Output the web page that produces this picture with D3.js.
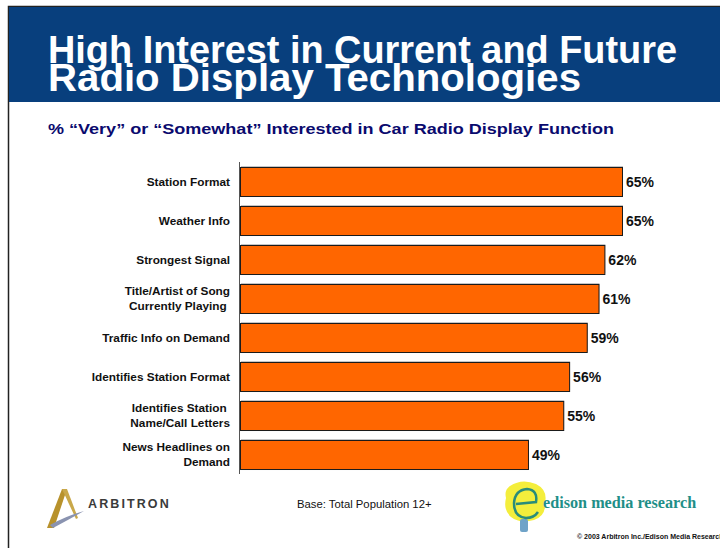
<!DOCTYPE html>
<html>
<head>
<meta charset="utf-8">
<script src="https://cdn.jsdelivr.net/npm/d3@7"></script>
<style>
  body { margin: 0; background: #fff; }
  svg text { font-family: Arial, "Liberation Sans", sans-serif; }
</style>
</head>
<body>
<div id="chart"></div>
<script>
// data
var categories = [
    ["Station Format"],
    ["Weather Info"],
    ["Strongest Signal"],
    ["Title/Artist of Song", "Currently Playing "],
    ["Traffic Info on Demand"],
    ["Identifies Station Format"],
    ["Identifies Station ", "Name/Call Letters"],
    ["News Headlines on", "Demand"]
];
var values = [65, 65, 62, 61, 59, 56, 55, 49];
var titleLines = ["High Interest in Current and Future", "Radio Display Technologies"];
var subtitle = "% \u201cVery\u201d or \u201cSomewhat\u201d Interested in Car Radio Display Function";

var W = 720, H = 548;

var svg = d3.select("#chart").append("svg")
        .attr("width", W)
        .attr("height", H);

// slide frame + header band
svg.append("rect")
        .attr("x", 8.5).attr("y", 6.5)
        .attr("width", W).attr("height", H)
        .attr("fill", "#fff")
        .attr("stroke", "#222")
        .attr("stroke-width", 1.5);

svg.append("rect")
        .attr("x", 9).attr("y", 7)
        .attr("width", W).attr("height", 95)
        .attr("fill", "#083f7d");

svg.selectAll("text.title").data(titleLines)
    .enter().append("text")
        .attr("class", "title")
        .attr("x", 48)
        .attr("y", function(d, i) { return 63 + i * 28; })
        .attr("fill", "#fff")
        .attr("font-size", 38)
        .attr("font-weight", "bold")
        .attr("textLength", function(d, i) { return i ? 533 : 629; })
        .attr("lengthAdjust", "spacingAndGlyphs")
        .text(function(d) { return d; });

svg.append("text")
        .attr("x", 48).attr("y", 134)
        .attr("fill", "#0a0a6e")
        .attr("font-size", 15)
        .attr("font-weight", "bold")
        .attr("textLength", 566)
        .attr("lengthAdjust", "spacingAndGlyphs")
        .text(subtitle);

// scales
var y = d3.scaleBand()
        .domain(d3.range(values.length))
        .range([162, 474])
        .paddingInner(0.256)
        .paddingOuter(0.128);

var x = d3.scaleLinear()
        .domain([0, 65])
        .range([240, 622]);

var g = svg.append("g");

// bars (with faint shadow)
g.selectAll("rect.shadow").data(values)
    .enter().append("rect")
        .attr("class", "shadow")
        .attr("x", x(0) + 1)
        .attr("y", function(d, i) { return y(i) - 1; })
        .attr("width", function(d) { return x(d) - x(0); })
        .attr("height", y.bandwidth())
        .attr("fill", "#c8c8c8");

g.selectAll("rect.bar").data(values)
    .enter().append("rect")
        .attr("class", "bar")
        .attr("x", x(0) + 0.5)
        .attr("y", function(d, i) { return y(i) + 0.5; })
        .attr("width", function(d) { return x(d) - x(0); })
        .attr("height", y.bandwidth())
        .attr("fill", "#ff6600")
        .attr("stroke", "#1a1a1a")
        .attr("stroke-width", 1);

// axis line
var yAxis = d3.axisLeft(y).tickSize(0).tickFormat("");
g.append("g")
        .attr("transform", "translate(" + (x(0) - 0.5) + ",0)")
        .call(yAxis)
        .call(function(a) {
            a.select(".domain").attr("stroke", "#555").attr("d", "M0,162V474");
        });

// category labels
var labels = g.selectAll("text.cat").data(categories)
    .enter().append("text")
        .attr("class", "cat")
        .attr("text-anchor", "end")
        .attr("font-size", 11.8)
        .attr("font-weight", "bold")
        .attr("fill", "#111")
        .style("white-space", "pre");

labels.selectAll("tspan").data(function(d, i) {
        return d.map(function(t, j) { return { t: t, i: i, j: j, n: d.length }; });
    })
    .enter().append("tspan")
        .attr("x", 230)
        .attr("y", function(d) {
            return y(d.i) + y.bandwidth() / 2 + 4 + (d.j - (d.n - 1) / 2) * 15;
        })
        .text(function(d) { return d.t; });

// value labels
g.selectAll("text.val").data(values)
    .enter().append("text")
        .attr("class", "val")
        .attr("x", function(d) { return x(d) + 4; })
        .attr("y", function(d, i) { return y(i) + y.bandwidth() / 2 + 5; })
        .attr("font-size", 14)
        .attr("font-weight", "bold")
        .attr("fill", "#111")
        .text(function(d) { return d + "%"; });

// footer: Arbitron logo
var arb = svg.append("g");
arb.append("path")
        .attr("d", "M47,528 L62,489 L67,489 L54,528 Z")
        .attr("fill", "#b8922c");
arb.append("path")
        .attr("d", "M62,489 L67,489 L78,518 L76,519 Z")
        .attr("fill", "#c9a84a");
arb.append("path")
        .attr("d", "M50,525 Q66,516 84,511 Q68,520 53,528 Z")
        .attr("fill", "#8a93b0");
arb.append("text")
        .attr("x", 88).attr("y", 508)
        .attr("font-size", 12.5)
        .attr("font-weight", "bold")
        .attr("letter-spacing", 2.1)
        .attr("fill", "#3a3a3a")
        .text("ARBITRON");

svg.append("text")
        .attr("x", 297).attr("y", 508)
        .attr("font-size", 11.3)
        .attr("fill", "#111")
        .text("Base: Total Population 12+");

// footer: Edison logo
var ed = svg.append("g");
ed.append("path")
        .attr("d", "M510,486 Q522,478 536,484 Q548,490 545,503 Q546,516 534,520 Q520,524 511,517 Q503,510 506,498 Q504,490 510,486 Z")
        .attr("fill", "#f4ee3c");
ed.append("rect")
        .attr("x", 520).attr("y", 519)
        .attr("width", 8).attr("height", 13)
        .attr("rx", 2)
        .attr("fill", "#6fa3c8");
ed.append("path")
        .attr("d", "M516,504 L536,502 Q538,490 527,489 Q515,490 514,503 Q514,517 526,518 Q534,518 538,512")
        .attr("fill", "none")
        .attr("stroke", "#2a8c7a")
        .attr("stroke-width", 2.5);
ed.append("text")
        .attr("x", 543).attr("y", 508)
        .style("font-family", "'Liberation Serif', 'Times New Roman', serif")
        .attr("font-size", 16.2)
        .attr("font-weight", "bold")
        .attr("fill", "#1f8f88")
        .text("edison media research");

svg.append("text")
        .attr("x", 577).attr("y", 539)
        .attr("font-size", 7)
        .attr("font-weight", "bold")
        .attr("fill", "#111")
        .text("\u00a9 2003 Arbitron Inc./Edison Media Research");
</script>
</body>
</html>
